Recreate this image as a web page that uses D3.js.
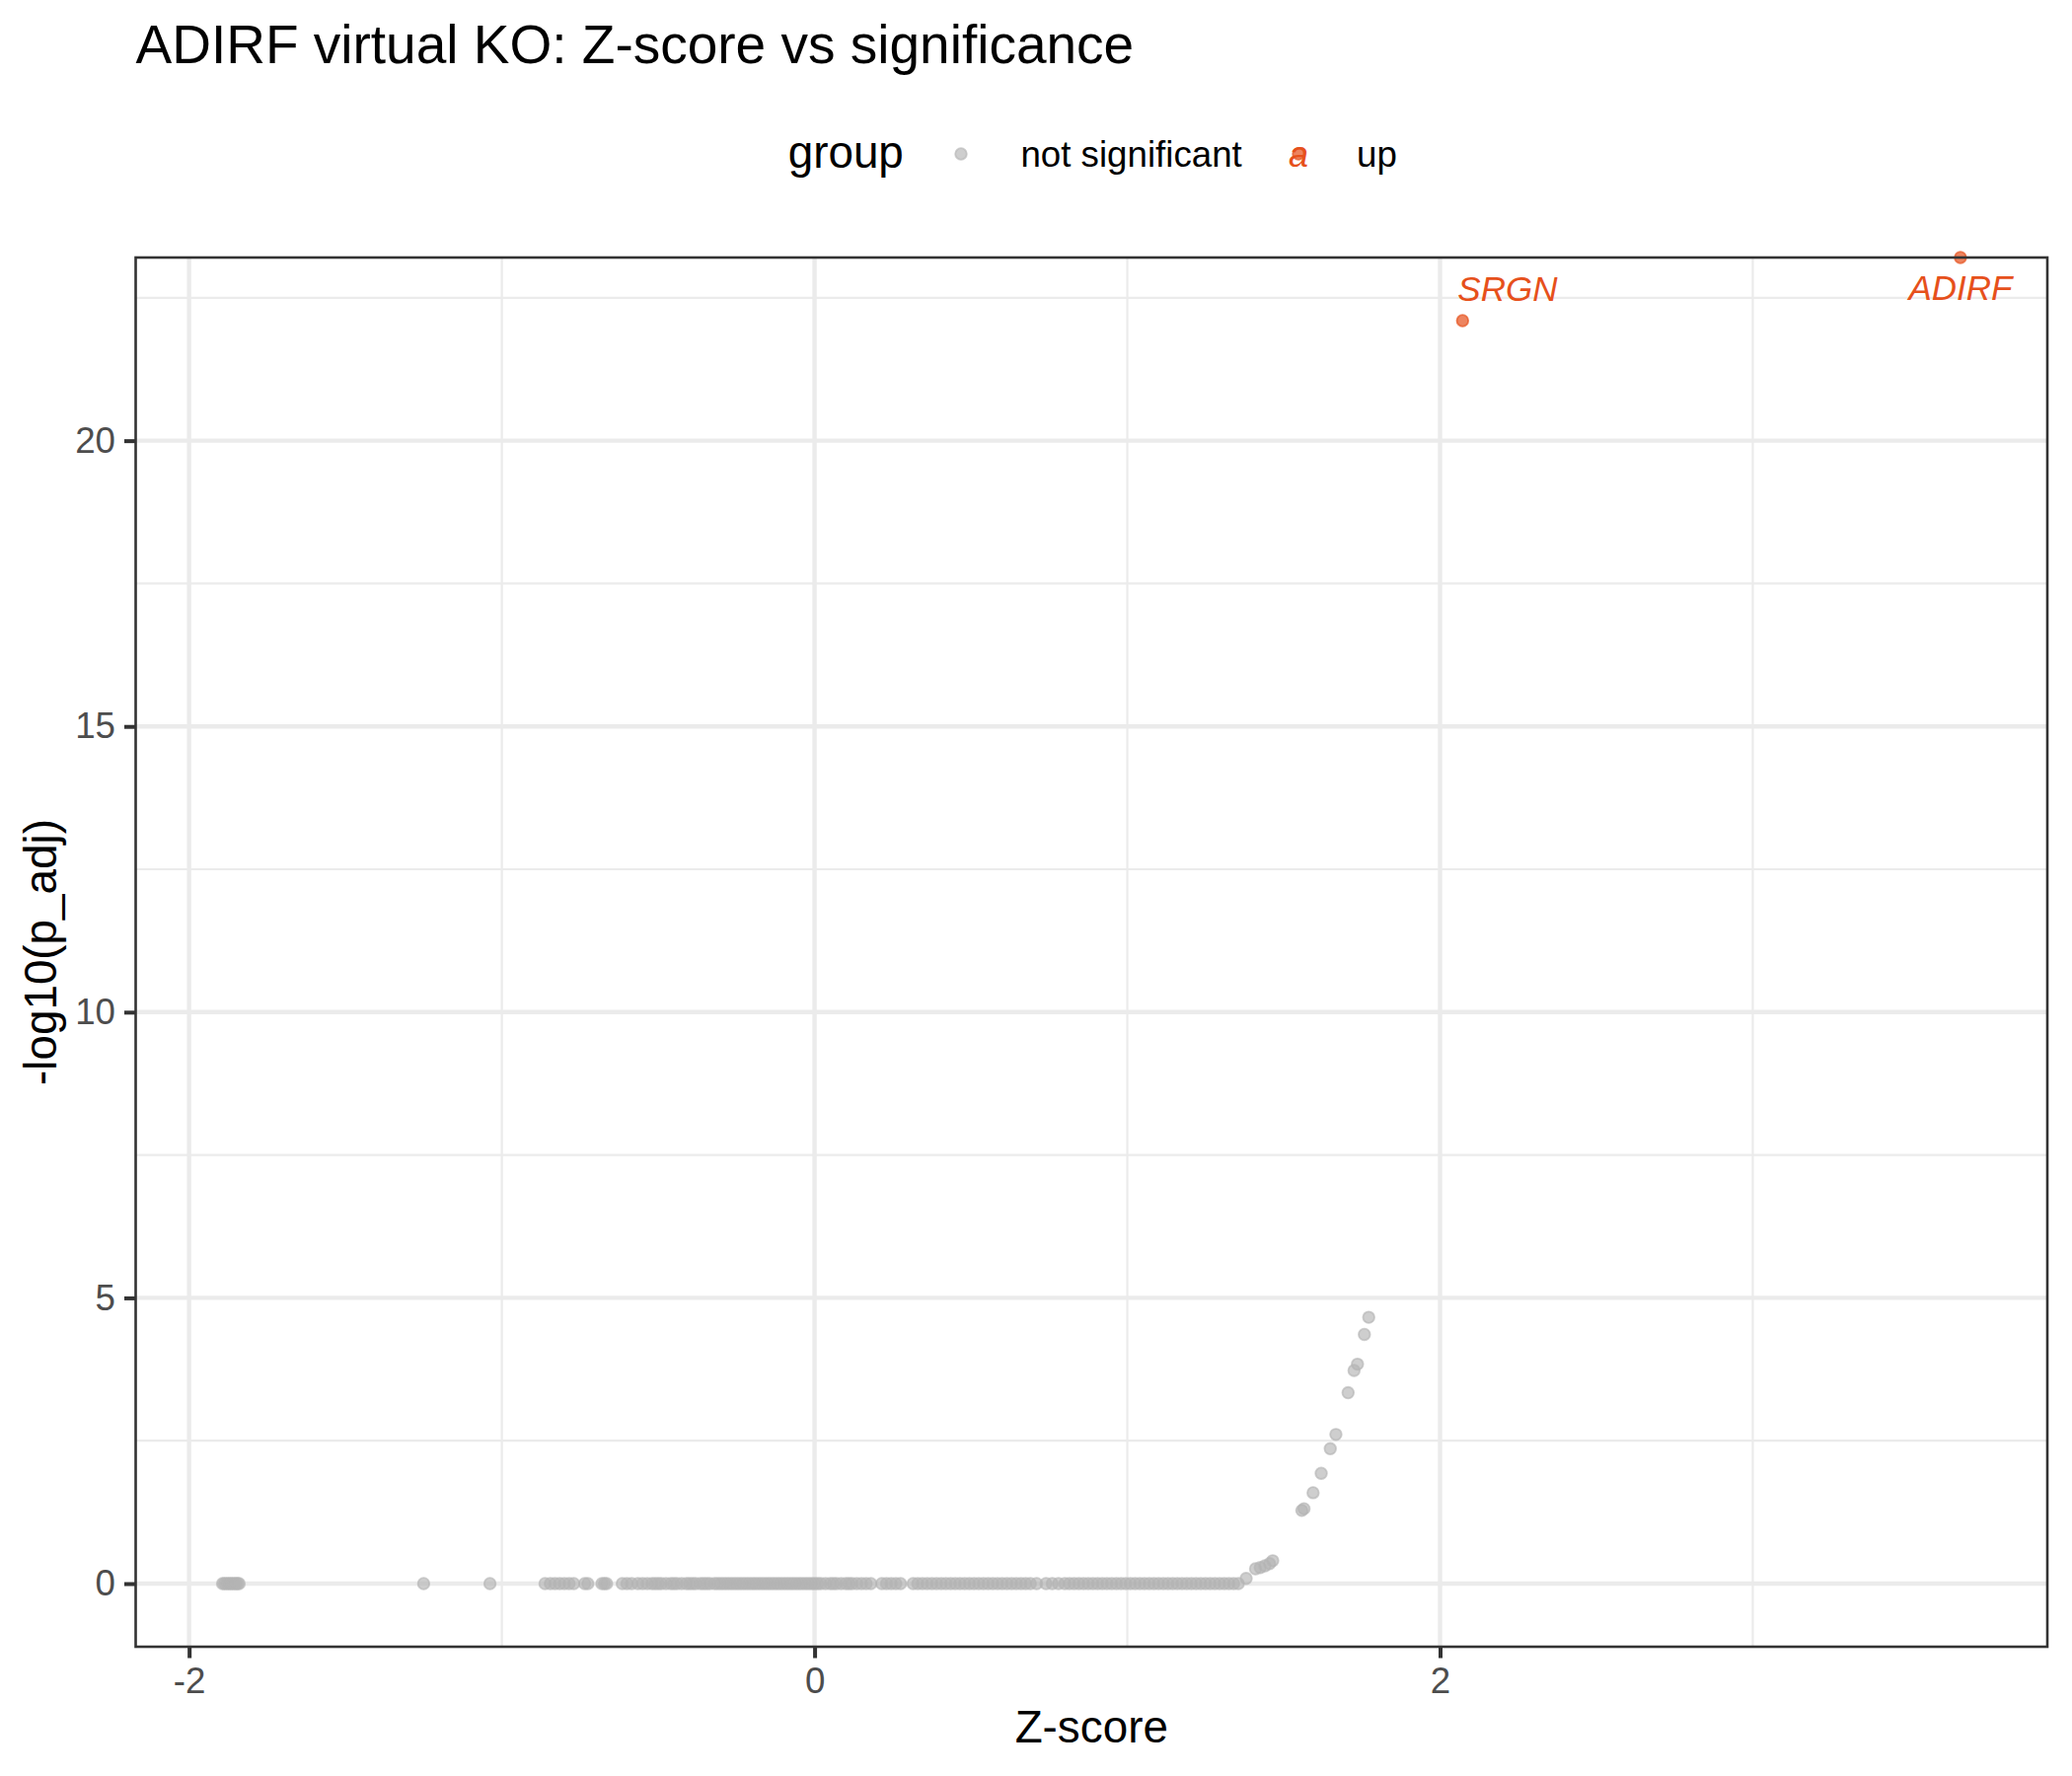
<!DOCTYPE html>
<html>
<head>
<meta charset="utf-8">
<script src="https://cdn.jsdelivr.net/npm/d3@7"></script>
<style>
  body { margin: 0; background: #fff; }
  text { font-family: "Liberation Sans", Arial, Helvetica, sans-serif; }
</style>
</head>
<body>
<div id="chart"></div>
<script>
// genes whose -log10(p_adj) is 0 (p_adj = 1), only the Z-score differs
var zeroZ = [
    -1.893, -1.887, -1.880, -1.874, -1.868, -1.862, -1.856, -1.850, -1.845, -1.840,
    -1.250, -1.038,
    -0.862, -0.845, -0.830, -0.815, -0.800, -0.785, -0.770, -0.735, -0.725,
    -0.680, -0.672, -0.665, -0.615, -0.600, -0.585, -0.565, -0.550, -0.535,
    -0.520, -0.510, -0.500, -0.490, -0.475, -0.460, -0.450, -0.440, -0.425,
    -0.410, -0.400, -0.390, -0.380, -0.365, -0.355, -0.345, -0.335, -0.320,
    -0.310, -0.300, -0.290, -0.280, -0.270, -0.260, -0.250, -0.240, -0.230,
    -0.220, -0.210, -0.200, -0.190, -0.180, -0.170, -0.160, -0.150, -0.140,
    -0.130, -0.120, -0.110, -0.100, -0.090, -0.080, -0.070, -0.060, -0.050,
    -0.040, -0.030, -0.020, -0.010, 0.000, 0.010, 0.020, 0.035, 0.050, 0.060,
    0.070, 0.085, 0.100, 0.110, 0.120, 0.135, 0.150, 0.165, 0.180, 0.215,
    0.230, 0.245, 0.260, 0.275, 0.315, 0.330, 0.345, 0.360, 0.375, 0.390,
    0.405, 0.420, 0.435, 0.450, 0.465, 0.480, 0.495, 0.510, 0.525, 0.540,
    0.555, 0.570, 0.585, 0.600, 0.615, 0.630, 0.645, 0.660, 0.675, 0.690,
    0.710, 0.740, 0.760, 0.780, 0.800, 0.815, 0.830, 0.845, 0.860, 0.875,
    0.890, 0.905, 0.920, 0.935, 0.950, 0.965, 0.980, 0.995, 1.010, 1.025,
    1.040, 1.055, 1.070, 1.085, 1.100, 1.115, 1.130, 1.145, 1.160, 1.175,
    1.190, 1.205, 1.220, 1.235, 1.250, 1.265, 1.280, 1.295, 1.310, 1.325,
    1.340, 1.355
];
// not significant genes that rise above zero
var riseZ = [1.380, 1.410, 1.425, 1.440, 1.455, 1.465, 1.558, 1.565, 1.594,
    1.620, 1.649, 1.667, 1.706, 1.725, 1.736, 1.758, 1.772];
var riseP = [0.09, 0.26, 0.28, 0.31, 0.35, 0.40, 1.28, 1.31, 1.59,
    1.93, 2.36, 2.61, 3.34, 3.73, 3.84, 4.36, 4.66];
// significant "up" genes (p_adj of ADIRF is 0 -> Inf)
var upGenes = ["SRGN", "ADIRF"];
var upZ = [2.072, 3.664];
var upP = [22.1, Infinity];

var groups = ["not significant", "up"];
var xBreaks = [-2, 0, 2];
var xMinor = [-1, 1, 3];
var yBreaks = [0, 5, 10, 15, 20];
var yMinor = [2.5, 7.5, 12.5, 17.5, 22.5];

var plot = {
    width: 2100,
    height: 1800,
    panel: { left: 137.5, right: 2075, top: 261, bottom: 1669 },
    grey: "#B3B3B3",
    orange: "#E6501B",
    build: function() {
        let pts = [];
        zeroZ.forEach(function(z) { pts.push({ z: z, p: 0, group: groups[0] }); });
        riseZ.forEach(function(z, i) { pts.push({ z: z, p: riseP[i], group: groups[0] }); });
        upZ.forEach(function(z, i) { pts.push({ z: z, p: upP[i], group: groups[1], gene: upGenes[i] }); });
        return pts;
    },
    // ggplot-like 5% expansion of the data range
    expand: function(vals) {
        let ext = d3.extent(vals.filter(isFinite));
        let pad = (ext[1] - ext[0]) * 0.05;
        return [ext[0] - pad, ext[1] + pad];
    },
    dot: function(sel, colour, alpha) {
        // shape 19 style: fill and outline both translucent
        sel.attr("r", 5.8)
            .attr("fill", colour).attr("stroke", colour)
            .attr("fill-opacity", alpha).attr("stroke-opacity", alpha)
            .attr("stroke-width", 1.8);
    },
    draw: function() {
        let self = this;
        let p = this.panel;
        let pts = this.build();
        let svg = d3.select("#chart").append("svg")
            .attr("width", this.width)
            .attr("height", this.height);
        svg.append("rect").attr("width", this.width).attr("height", this.height).attr("fill", "#fff");

        let x = d3.scaleLinear()
            .domain(this.expand(pts.map(function(d) { return d.z; })))
            .range([p.left, p.right]);
        let y = d3.scaleLinear()
            .domain(this.expand(pts.map(function(d) { return d.p; })))
            .range([p.bottom, p.top]);
        // Inf is drawn on the panel edge
        let yPos = function(v) { return isFinite(v) ? y(v) : p.top; };

        // grid
        let grid = svg.append("g");
        grid.selectAll(".xminor").data(xMinor).enter().append("line")
            .attr("x1", x).attr("x2", x).attr("y1", p.top).attr("y2", p.bottom)
            .attr("stroke", "#EBEBEB").attr("stroke-width", 2.2);
        grid.selectAll(".yminor").data(yMinor).enter().append("line")
            .attr("y1", y).attr("y2", y).attr("x1", p.left).attr("x2", p.right)
            .attr("stroke", "#EBEBEB").attr("stroke-width", 2.2);
        grid.selectAll(".xmajor").data(xBreaks).enter().append("line")
            .attr("x1", x).attr("x2", x).attr("y1", p.top).attr("y2", p.bottom)
            .attr("stroke", "#EBEBEB").attr("stroke-width", 4.4);
        grid.selectAll(".ymajor").data(yBreaks).enter().append("line")
            .attr("y1", y).attr("y2", y).attr("x1", p.left).attr("x2", p.right)
            .attr("stroke", "#EBEBEB").attr("stroke-width", 4.4);

        // points
        let g = svg.append("g");
        g.selectAll("circle.ns").data(pts.filter(function(d) { return d.group !== "up"; }))
            .enter().append("circle")
            .attr("cx", function(d) { return x(d.z); })
            .attr("cy", function(d) { return yPos(d.p); })
            .call(this.dot, this.grey, 0.65);
        g.selectAll("circle.up").data(pts.filter(function(d) { return d.group === "up"; }))
            .enter().append("circle")
            .attr("cx", function(d) { return x(d.z); })
            .attr("cy", function(d) { return yPos(d.p); })
            .call(this.dot, this.orange, 0.7);

        // gene labels
        let labelled = pts.filter(function(d) { return d.gene; });
        svg.append("g").selectAll("text").data(labelled).enter().append("text")
            .attr("x", function(d) { return isFinite(d.p) ? x(d.z) - 5 : x(d.z); })
            .attr("y", function(d) { return Math.max(yPos(d.p) - 20, p.top + 43); })
            .attr("text-anchor", function(d) { return isFinite(d.p) ? "start" : "middle"; })
            .attr("font-size", 35)
            .attr("font-style", "italic")
            .attr("fill", this.orange)
            .text(function(d) { return d.gene; });

        // panel border
        svg.append("rect")
            .attr("x", p.left).attr("y", p.top)
            .attr("width", p.right - p.left).attr("height", p.bottom - p.top)
            .attr("fill", "none").attr("stroke", "#333333").attr("stroke-width", 2.6);

        // axes (plain hyphen for negatives, like R)
        let fmt = function(d) { return String(d); };
        let xAxis = d3.axisBottom(x).tickValues(xBreaks).tickSize(11.5).tickPadding(9)
            .tickFormat(fmt);
        let gx = svg.append("g")
            .attr("transform", "translate(0," + p.bottom + ")")
            .call(xAxis);
        let yAxis = d3.axisLeft(y).tickValues(yBreaks).tickSize(11.5).tickPadding(9)
            .tickFormat(fmt);
        let gy = svg.append("g")
            .attr("transform", "translate(" + p.left + ",0)")
            .call(yAxis);
        [gx, gy].forEach(function(a) {
            a.select(".domain").remove();
            a.selectAll(".tick line").attr("stroke", "#333333").attr("stroke-width", 4);
            a.selectAll(".tick text")
                .attr("fill", "#4D4D4D")
                .attr("font-size", 36.7)
                .attr("font-family", "Liberation Sans, Arial, sans-serif");
        });

        // titles
        svg.append("text")
            .attr("x", 137.5).attr("y", 64)
            .attr("font-size", 55)
            .text("ADIRF virtual KO: Z-score vs significance");
        svg.append("text")
            .attr("x", (p.left + p.right) / 2).attr("y", 1766)
            .attr("text-anchor", "middle")
            .attr("font-size", 45.8)
            .text("Z-score");
        svg.append("text")
            .attr("transform", "translate(57," + ((p.top + p.bottom) / 2) + ") rotate(-90)")
            .attr("text-anchor", "middle")
            .attr("font-size", 45.8)
            .text("-log10(p_adj)");

        this.legend(svg);
    },
    legend: function(svg) {
        let lg = svg.append("g");
        lg.append("text").attr("x", 798.7).attr("y", 170)
            .attr("font-size", 45.8).text("group");
        // not significant key
        lg.append("circle").attr("cx", 974).attr("cy", 156).call(this.dot, this.grey, 0.65);
        lg.append("text").attr("x", 1034.4).attr("y", 169)
            .attr("font-size", 36.7).text(groups[0]);
        // up key: point plus text glyph
        lg.append("circle").attr("cx", 1316).attr("cy", 156).call(this.dot, this.orange, 0.7);
        lg.append("text").attr("x", 1316).attr("y", 169)
            .attr("text-anchor", "middle")
            .attr("font-size", 36).attr("font-style", "italic")
            .attr("fill", this.orange).text("a");
        lg.append("text").attr("x", 1375).attr("y", 169)
            .attr("font-size", 36.7).text(groups[1]);
    }
};

plot.draw();
</script>
</body>
</html>
